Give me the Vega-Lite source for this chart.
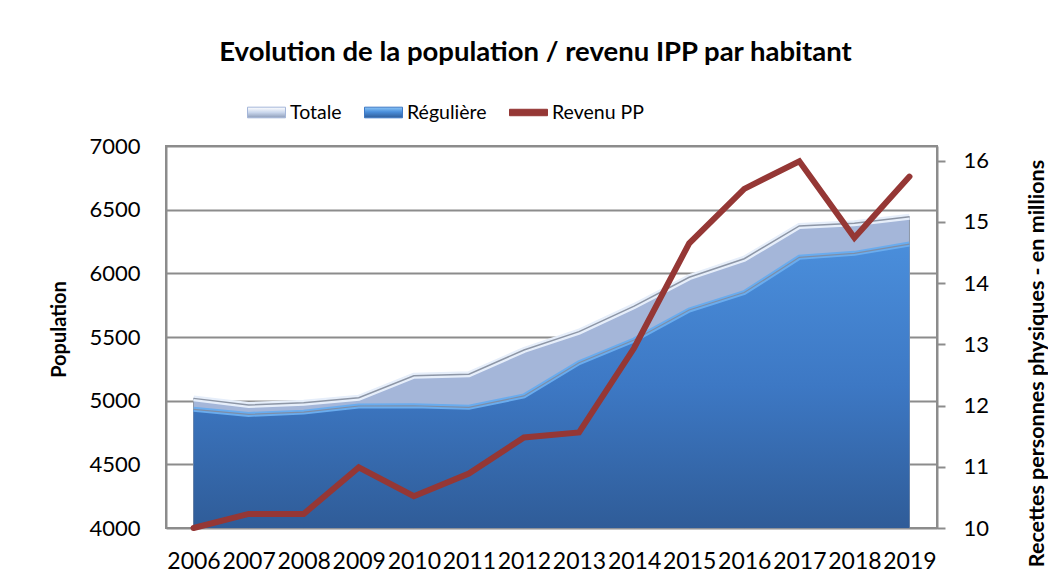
{
  "$schema": "https://vega.github.io/schema/vega-lite/v6.json",
  "width": 771,
  "height": 382,
  "autosize": {"type": "none"},
  "padding": {"left": 166, "top": 146, "right": 111, "bottom": 44},
  "background": "white",
  "config": {
    "font": "Lato",
    "view": {"stroke": "#8c8c8c", "strokeWidth": 2},
    "axisLeft": {
      "labelFontSize": 22, "labelColor": "#000", "labelPadding": 26, "format": "d",
      "ticks": false, "tickSize": 0,
      "domain": true, "domainColor": "#8c8c8c", "domainWidth": 2,
      "grid": true, "gridColor": "#8c8c8c", "gridWidth": 2,
      "titleFontSize": 20, "titleFontWeight": "bold", "titleColor": "#000",
      "titleAngle": 270, "titleX": -101, "titleY": 183, "titleBaseline": "alphabetic", "titleAlign": "center"
    },
    "axisRight": {
      "labelFontSize": 22, "labelColor": "#000", "labelPadding": 18,
      "ticks": true, "tickSize": 8, "tickColor": "#8c8c8c", "tickWidth": 2,
      "domain": true, "domainColor": "#8c8c8c", "domainWidth": 2,
      "grid": false,
      "titleFontSize": 21.5, "titleFontWeight": "bold", "titleColor": "#000",
      "titleAngle": 270, "titleX": 106, "titleY": 217, "titleBaseline": "alphabetic", "titleAlign": "center"
    },
    "axisBottom": {
      "labelFontSize": 23, "labelColor": "#000", "labelPadding": 22, "labelAngle": 0,
      "ticks": false, "tickSize": 0, "domain": false, "grid": false
    }
  },
  "title": {
    "text": "Evolution de la population / revenu IPP par habitant",
    "font": "Lato", "fontSize": 27.5, "fontWeight": "bold", "color": "#000",
    "anchor": "middle", "dx": -16, "offset": 27
  },
  "data": {
    "values": [
      {"annee": "2006", "totale": 5018, "reguliere": 4932, "revenu": 10.0},
      {"annee": "2007", "totale": 4966, "reguliere": 4892, "revenu": 10.23},
      {"annee": "2008", "totale": 4984, "reguliere": 4910, "revenu": 10.23},
      {"annee": "2009", "totale": 5023, "reguliere": 4958, "revenu": 10.99},
      {"annee": "2010", "totale": 5196, "reguliere": 4960, "revenu": 10.52},
      {"annee": "2011", "totale": 5207, "reguliere": 4948, "revenu": 10.89},
      {"annee": "2012", "totale": 5398, "reguliere": 5037, "revenu": 11.48},
      {"annee": "2013", "totale": 5542, "reguliere": 5298, "revenu": 11.56},
      {"annee": "2014", "totale": 5743, "reguliere": 5476, "revenu": 12.94},
      {"annee": "2015", "totale": 5969, "reguliere": 5712, "revenu": 14.65},
      {"annee": "2016", "totale": 6115, "reguliere": 5849, "revenu": 15.54},
      {"annee": "2017", "totale": 6372, "reguliere": 6126, "revenu": 15.99},
      {"annee": "2018", "totale": 6393, "reguliere": 6157, "revenu": 14.74},
      {"annee": "2019", "totale": 6445, "reguliere": 6230, "revenu": 15.74}
    ]
  },
  "encoding": {
    "x": {
      "field": "annee", "type": "ordinal",
      "scale": {"type": "point", "padding": 0.5},
      "axis": {"title": null}
    }
  },
  "layer": [
    {
      "layer": [
        {
          "mark": {"type": "area", "fill": "#a4b6d9", "stroke": "#8d96a6", "strokeWidth": 1},
          "encoding": {
            "y": {"field": "totale", "type": "quantitative", "title": "Population",
                  "scale": {"domain": [4000, 7000], "nice": false, "zero": false},
                  "axis": {"values": [4000, 4500, 5000, 5500, 6000, 6500, 7000], "orient": "left"}},
            "y2": {"datum": 4000}
          }
        },
        {
          "mark": {"type": "line", "stroke": "#e6eefa", "strokeWidth": 6},
          "encoding": {"y": {"field": "totale", "type": "quantitative", "title": "Population"}}
        },
        {
          "mark": {"type": "line", "stroke": "#8d96a6", "strokeWidth": 1.5},
          "encoding": {"y": {"field": "totale", "type": "quantitative", "title": "Population"}}
        },
        {
          "mark": {
            "type": "area",
            "fill": {"gradient": "linear", "x1": 0, "y1": 0, "x2": 0, "y2": 1,
                     "stops": [{"offset": 0, "color": "#4a8edb"}, {"offset": 0.5, "color": "#3d78c4"}, {"offset": 1, "color": "#2f5c98"}]}
          },
          "encoding": {
            "y": {"field": "reguliere", "type": "quantitative", "title": "Population"},
            "y2": {"datum": 4000}
          }
        },
        {
          "mark": {"type": "line", "stroke": "#6aacee", "strokeWidth": 5},
          "encoding": {"y": {"field": "reguliere", "type": "quantitative", "title": "Population"}}
        },
        {
          "mark": {"type": "line", "stroke": "#7d8ea8", "strokeWidth": 1.2},
          "encoding": {"y": {"field": "reguliere", "type": "quantitative", "title": "Population"}}
        }
      ]
    },
    {
      "mark": {"type": "line", "strokeWidth": 6, "strokeJoin": "miter", "strokeCap": "round"},
      "encoding": {
        "y": {"field": "revenu", "type": "quantitative",
              "title": "Recettes personnes physiques - en millions",
              "scale": {"domain": [10, 16.24], "nice": false, "zero": false},
              "axis": {"orient": "right", "values": [10, 11, 12, 13, 14, 15, 16]}},
        "color": {
          "datum": "Revenu PP",
          "scale": {"domain": ["Totale", "Régulière", "Revenu PP"], "range": ["#a4b6d9", "#3d78c4", "#953735"]},
          "legend": {
            "title": null, "orient": "none", "legendX": 81, "legendY": -53, "direction": "horizontal",
            "padding": 0, "labelFontSize": 19.5, "labelColor": "#000", "labelOffset": 4, "columnPadding": 20,
            "symbolSize": 1444,
            "encode": {
              "symbols": {
                "update": {
                  "shape": [
                    {"test": "datum.value === 'Revenu PP'", "value": "M-1,-0.17H1V0.17H-1Z"},
                    {"value": "M-1,-0.28H1V0.28H-1Z"}
                  ],
                  "fill": [
                    {"test": "datum.value === 'Totale'", "value": {"gradient": "linear", "x1": 0, "y1": 0, "x2": 0, "y2": 1, "stops": [{"offset": 0, "color": "#ffffff"}, {"offset": 0.5, "color": "#c9d6ec"}, {"offset": 1, "color": "#8c9cb8"}]}},
                    {"test": "datum.value === 'Régulière'", "value": {"gradient": "linear", "x1": 0, "y1": 0, "x2": 0, "y2": 1, "stops": [{"offset": 0, "color": "#8cc6f7"}, {"offset": 0.45, "color": "#4a8edb"}, {"offset": 1, "color": "#2f5c98"}]}},
                    {"value": "#953735"}
                  ],
                  "stroke": [
                    {"test": "datum.value === 'Revenu PP'", "value": "#953735"},
                    {"value": "#7f7f7f"}
                  ],
                  "strokeWidth": {"value": 1},
                  "opacity": {"value": 1}
                }
              }
            }
          }
        }
      }
    }
  ],
  "resolve": {"scale": {"y": "independent"}}
}
